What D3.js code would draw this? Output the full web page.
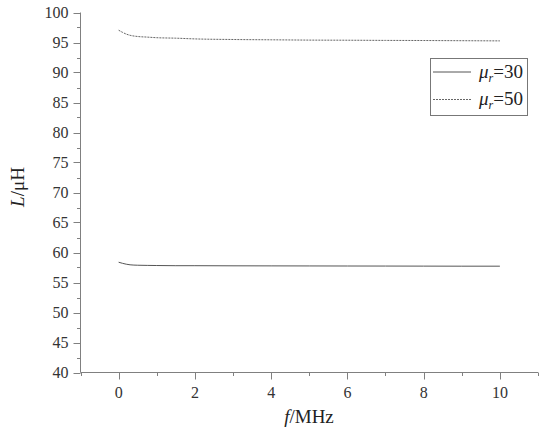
<!DOCTYPE html>
<html><head><meta charset="utf-8">
<script src="https://cdn.jsdelivr.net/npm/d3@7"></script>
<style>body{margin:0;background:#fff}svg{display:block}</style>
</head><body>
<svg id="c" width="550" height="438"></svg>
<script>
const freq = [0, 0.1, 0.2, 0.3, 0.5, 0.75, 1, 1.5, 2, 3, 4, 5, 6, 7, 8, 9, 10];
const L30 = [58.38, 58.2, 58.05, 57.95, 57.88, 57.85, 57.83, 57.8, 57.8, 57.78, 57.77, 57.76, 57.75, 57.74, 57.73, 57.72, 57.72];
const L50 = [97.05, 96.7, 96.4, 96.2, 96.0, 95.9, 95.8, 95.72, 95.6, 95.5, 95.45, 95.4, 95.38, 95.35, 95.33, 95.3, 95.27];
const seriesNames = ["30", "50"];
const xTicks = [0, 2, 4, 6, 8, 10];
const yTicks = [40, 45, 50, 55, 60, 65, 70, 75, 80, 85, 90, 95, 100];

const FONT = '"Liberation Serif"';
const svg = d3.select("#c");
const axisColor = "#808080";
const x = d3.scaleLinear().domain([-1, 11]).range([80.5, 538]);
const y = d3.scaleLinear().domain([40, 100]).range([372.5, 12.5]);

// y axis
const gy = svg.append("g").attr("transform", "translate(80.5,0)");
gy.append("line").attr("y1", y(100)).attr("y2", y(40)).attr("stroke", axisColor);
d3.range(40, 100.01, 2.5).forEach(v => {
  const major = v % 5 === 0;
  gy.append("line").attr("x1", 0).attr("x2", major ? -7 : -3.5)
    .attr("y1", Math.round(y(v)) + 0.5).attr("y2", Math.round(y(v)) + 0.5).attr("stroke", axisColor);
});
yTicks.forEach(v => {
  gy.append("text").attr("x", -12).attr("y", y(v)).attr("dy", "0.35em")
    .attr("text-anchor", "end").style("font-family", FONT).style("font-size", "16px")
    .attr("fill", "#333").text(v);
});

// x axis
const gx = svg.append("g").attr("transform", "translate(0,372.5)");
gx.append("line").attr("x1", x(-1)).attr("x2", x(11)).attr("stroke", axisColor);
d3.range(-1, 11.01, 1).forEach(v => {
  const major = v % 2 === 0;
  gx.append("line").attr("x1", Math.round(x(v)) + 0.5).attr("x2", Math.round(x(v)) + 0.5)
    .attr("y1", 0).attr("y2", major ? 7 : 3.5).attr("stroke", axisColor);
});
xTicks.forEach(v => {
  gx.append("text").attr("x", x(v)).attr("y", 25)
    .attr("text-anchor", "middle").style("font-family", FONT).style("font-size", "16px")
    .attr("fill", "#333").text(v);
});

// axis titles
const xt = svg.append("text").attr("x", 309).attr("y", 423).attr("text-anchor", "middle")
  .style("font-family", FONT).style("font-size", "19px").attr("fill", "#222");
xt.append("tspan").style("font-style", "italic").text("f");
xt.append("tspan").text("/MHz");

const yt = svg.append("text").attr("transform", "translate(24,187) rotate(-90)").attr("text-anchor", "middle")
  .style("font-family", FONT).style("font-size", "19px").attr("fill", "#222");
yt.append("tspan").style("font-style", "italic").text("L");
yt.append("tspan").text("/μH");

// lines
const line = d3.line().x((d, i) => x(freq[i])).y(d => y(d)).curve(d3.curveMonotoneX);
svg.append("path").attr("d", line(L30)).attr("fill", "none").attr("stroke", "#555").attr("stroke-width", 1);
svg.append("path").attr("d", line(L50)).attr("fill", "none").attr("stroke", "#666").attr("stroke-width", 1)
  .attr("stroke-dasharray", "2,1");

// legend
const lg = svg.append("g");
lg.append("rect").attr("x", 430.5).attr("y", 58.5).attr("width", 97).attr("height", 57)
  .attr("fill", "#fff").attr("stroke", "#777");
const legendY = [72, 99.5];
seriesNames.forEach((n, i) => {
  lg.append("line").attr("x1", 433).attr("x2", 471).attr("y1", legendY[i]).attr("y2", legendY[i])
    .attr("stroke", i === 0 ? "#555" : "#666").attr("stroke-dasharray", i === 0 ? null : "2,1");
  const t = lg.append("text").attr("x", 479).attr("y", legendY[i] + 5.5)
    .style("font-family", FONT).style("font-size", "19px").attr("fill", "#222");
  t.append("tspan").style("font-style", "italic").text("μ");
  t.append("tspan").style("font-style", "italic").style("font-size", "12px").attr("dy", 4).text("r");
  t.append("tspan").attr("dy", -4).text("=" + n);
});
</script>
</body></html>
